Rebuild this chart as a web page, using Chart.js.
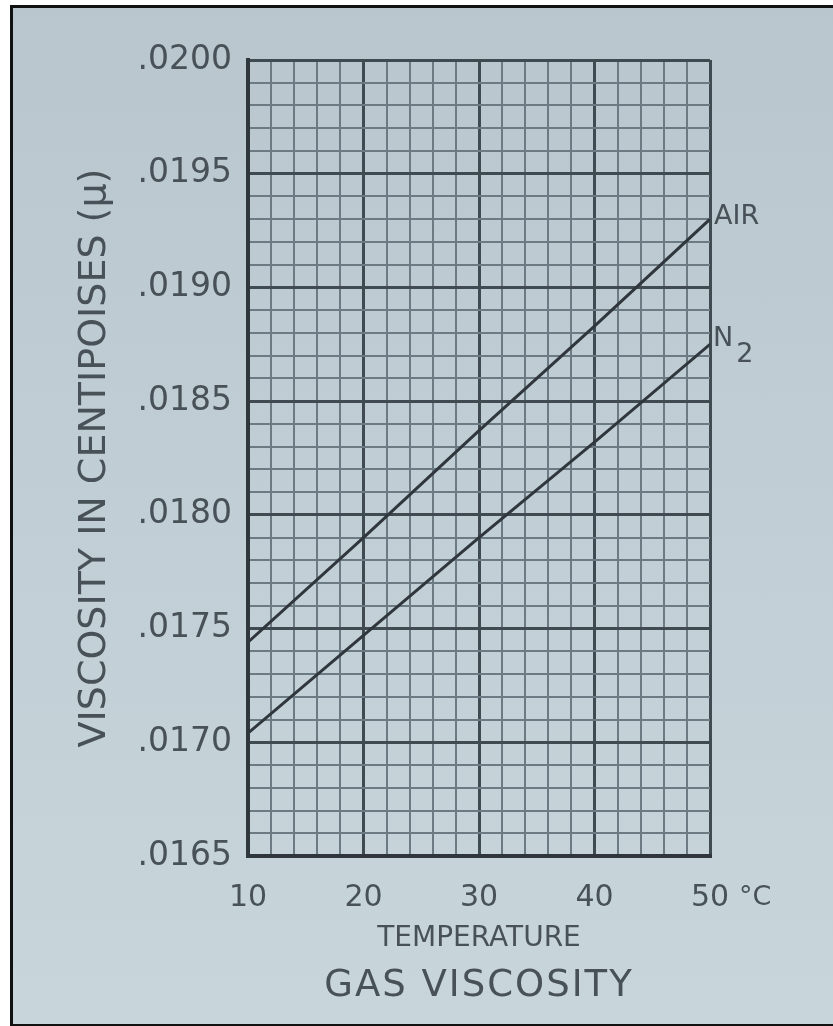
<!DOCTYPE html>
<html>
<head>
<meta charset="utf-8">
<script src="https://cdn.jsdelivr.net/npm/chart.js@4.4.1/dist/chart.umd.min.js"></script>
<style>
  html, body { margin: 0; padding: 0; background: #fff; }
  #frame {
    position: absolute; left: 10px; top: 5px; width: 830px; height: 1016px;
    border: 3px solid #111; border-right: none;
    background: linear-gradient(#b9c6ce, #c8d6dc);
  }
  #chart { position: absolute; left: 0; top: 0; }
</style>
</head>
<body>
<div id="frame"></div>
<canvas id="chart" width="833" height="1026"></canvas>
<script>
// Data
const temperatures = [10, 20, 30, 40, 50];
const airViscosity = [0.01744, 0.01790, 0.01837, 0.01883, 0.01930];
const n2Viscosity = [0.01704, 0.01747, 0.01790, 0.01832, 0.01875];
const xTickLabels = ['10', '20', '30', '40', '50'];
const yTickLabels = ['.0165', '.0170', '.0175', '.0180', '.0185', '.0190', '.0195', '.0200'];

const textColor = '#485157';
const minorGrid = '#6c7a83';
const majorGrid = '#3f4a51';
const inkColor = '#2f373d';
const fontFamily = '"DejaVu Sans", sans-serif';

// Helper: pair x and y arrays into points
const toPoints = (xs, ys) => xs.map((x, i) => ({ x, y: ys[i] }));

// Draws the curve names, the degree unit and the caption
const labelsPlugin = {
    id: 'labels',
    afterDraw(chart) {
        const { ctx, chartArea, scales } = chart;
        const xs = scales.x, ys = scales.y;
        const last = temperatures.length - 1;
        const xEnd = xs.getPixelForValue(temperatures[last]);

        ctx.save();
        ctx.fillStyle = textColor;
        ctx.textBaseline = 'middle';
        ctx.textAlign = 'left';
        ctx.font = '27px ' + fontFamily;

        // AIR label
        const airY = ys.getPixelForValue(airViscosity[last]);
        ctx.fillText('AIR', xEnd + 4, airY - 2);

        // N2 label with subscript
        const n2Y = ys.getPixelForValue(n2Viscosity[last]);
        ctx.fillText('N', xEnd + 3, n2Y - 5);
        const nW = ctx.measureText('N').width;
        ctx.fillText('2', xEnd + 6 + nW, n2Y + 11);

        // degree unit after the last x tick
        ctx.font = '27px ' + fontFamily;
        ctx.fillText('°C', xEnd + 29, xs.top + 42);

        // caption
        ctx.textAlign = 'center';
        ctx.font = '37px ' + fontFamily;
        ctx.letterSpacing = '2px';
        ctx.fillText('GAS VISCOSITY', (chartArea.left + chartArea.right) / 2, 986);
        ctx.restore();
    }
};

const ctx = document.getElementById('chart').getContext('2d');
new Chart(ctx, {
    type: 'line',
    data: {
        datasets: [
            {
                label: 'AIR',
                data: toPoints(temperatures, airViscosity),
                borderColor: inkColor,
                borderWidth: 3,
                pointRadius: 0,
                tension: 0,
            },
            {
                label: 'N2',
                data: toPoints(temperatures, n2Viscosity),
                borderColor: inkColor,
                borderWidth: 3,
                pointRadius: 0,
                tension: 0,
            },
        ],
    },
    options: {
        responsive: false,
        animation: false,
        devicePixelRatio: 1,
        layout: { padding: { top: 60, right: 123, left: 0, bottom: 0 } },
        plugins: {
            legend: { display: false },
            tooltip: { enabled: false },
        },
        scales: {
            x: {
                type: 'linear',
                min: 10,
                max: 50,
                afterFit: scale => { scale.height = 170; },
                border: { display: true, color: inkColor, width: 4 },
                grid: {
                    drawTicks: false,
                    color: c => (c.tick && c.tick.value % 10 === 0 ? majorGrid : minorGrid),
                    lineWidth: c => (c.tick && c.tick.value % 10 === 0 ? 3 : 2),
                },
                ticks: {
                    stepSize: 2,
                    autoSkip: false,
                    maxRotation: 0,
                    padding: 24,
                    color: textColor,
                    font: { family: fontFamily, size: 30 },
                    callback: v => (xTickLabels.includes(String(v)) ? String(v) : ''),
                },
                title: {
                    display: true,
                    text: 'TEMPERATURE',
                    color: textColor,
                    font: { family: fontFamily, size: 28 },
                    padding: { top: 0, bottom: 70 },
                },
            },
            y: {
                min: 0.0165,
                max: 0.0200,
                afterFit: scale => { scale.width = 248; },
                border: { display: true, color: inkColor, width: 4 },
                grid: {
                    drawTicks: false,
                    color: c => (c.tick && Math.round(c.tick.value * 10000) % 5 === 0 ? majorGrid : minorGrid),
                    lineWidth: c => (c.tick && Math.round(c.tick.value * 10000) % 5 === 0 ? 3 : 2),
                },
                ticks: {
                    stepSize: 0.0001,
                    autoSkip: false,
                    padding: 16,
                    color: textColor,
                    font: { family: fontFamily, size: 33 },
                    callback: v => {
                        const s = v.toFixed(4).slice(1);
                        return yTickLabels.includes(s) ? s : '';
                    },
                },
                title: {
                    display: true,
                    text: 'VISCOSITY IN CENTIPOISES (μ)',
                    color: textColor,
                    font: { family: fontFamily, size: 38 },
                    padding: { top: 72, bottom: 0 },
                },
            },
        },
    },
    plugins: [labelsPlugin],
});
</script>
</body>
</html>
